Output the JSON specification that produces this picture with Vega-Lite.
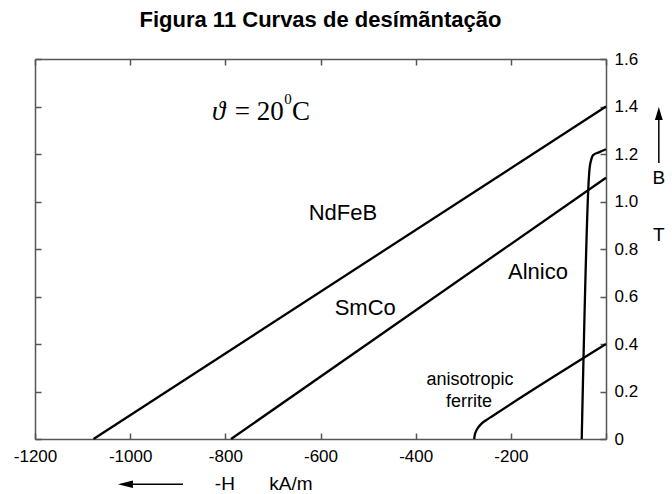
{
  "$schema": "https://vega.github.io/schema/vega-lite/v6.json",
  "width": 571,
  "height": 380,
  "autosize": {"type": "none"},
  "padding": {"left": 35, "top": 59, "right": 66, "bottom": 55},
  "background": "white",
  "title": {
    "text": "Figura 11 Curvas de desímãntação",
    "font": "Liberation Sans",
    "fontSize": 22,
    "fontWeight": "bold",
    "color": "#000000",
    "anchor": "middle",
    "offset": 18
  },
  "config": {
    "view": {"stroke": null},
    "font": "Liberation Sans",
    "axis": {
      "grid": false,
      "title": null,
      "domainColor": "#555555",
      "domainWidth": 1.5,
      "tickColor": "#555555",
      "tickWidth": 1.5,
      "tickSize": -6,
      "labelFont": "Liberation Sans",
      "labelFontSize": 17,
      "labelColor": "#000000",
      "labelFlush": false,
      "labelOverlap": false
    }
  },
  "datasets": {
    "curves": [
      {"material": "NdFeB", "H": -1077, "B": 0},
      {"material": "NdFeB", "H": 0, "B": 1.40},
      {"material": "SmCo", "H": -788, "B": 0},
      {"material": "SmCo", "H": 0, "B": 1.10},
      {"material": "Alnico", "H": -51, "B": 0},
      {"material": "Alnico", "H": -36, "B": 1.10},
      {"material": "Alnico", "H": -34.5, "B": 1.14},
      {"material": "Alnico", "H": -32, "B": 1.168},
      {"material": "Alnico", "H": -27, "B": 1.195},
      {"material": "Alnico", "H": -15, "B": 1.207},
      {"material": "Alnico", "H": 0, "B": 1.22},
      {"material": "anisotropic ferrite", "H": -277, "B": 0},
      {"material": "anisotropic ferrite", "H": -276, "B": 0.015},
      {"material": "anisotropic ferrite", "H": -273, "B": 0.033},
      {"material": "anisotropic ferrite", "H": -268, "B": 0.050},
      {"material": "anisotropic ferrite", "H": -261, "B": 0.066},
      {"material": "anisotropic ferrite", "H": -252, "B": 0.079},
      {"material": "anisotropic ferrite", "H": -240, "B": 0.095},
      {"material": "anisotropic ferrite", "H": 0, "B": 0.40}
    ],
    "anchor": [{}]
  },
  "layer": [
    {
      "data": {"name": "curves"},
      "mark": {"type": "line", "color": "#000000", "strokeWidth": 2.3, "interpolate": "monotone"},
      "encoding": {
        "x": {
          "field": "H",
          "type": "quantitative",
          "scale": {"domain": [-1200, 0], "nice": false, "zero": false},
          "axis": {
            "orient": "bottom",
            "values": [-1200, -1000, -800, -600, -400, -200, 0],
            "labelExpr": "datum.value == 0 ? '' : '' + datum.value",
            "labelPadding": 15
          }
        },
        "y": {
          "field": "B",
          "type": "quantitative",
          "scale": {"domain": [0, 1.6], "nice": false, "zero": false},
          "axis": {
            "orient": "right",
            "values": [0, 0.2, 0.4, 0.6, 0.8, 1.0, 1.2, 1.4, 1.6],
            "labelExpr": "datum.value == 0 ? '0' : format(datum.value, '.1f')",
            "labelPadding": 14
          }
        },
        "detail": {"field": "material"}
      }
    },
    {
      "data": {"name": "anchor"},
      "mark": {"type": "text", "text": "NdFeB", "fontSize": 22, "align": "center", "baseline": "middle", "color": "#000000"},
      "encoding": {
        "x": {"datum": -553, "type": "quantitative", "scale": {"domain": [-1200, 0], "nice": false, "zero": false},
          "axis": {"orient": "top", "values": [-1200, -1000, -800, -600, -400, -200, 0], "labels": false}},
        "y": {"datum": 0.952, "type": "quantitative", "scale": {"domain": [0, 1.6], "nice": false, "zero": false},
          "axis": {"orient": "left", "values": [0, 0.2, 0.4, 0.6, 0.8, 1.0, 1.2, 1.4, 1.6], "labels": false}}
      }
    },
    {
      "data": {"name": "anchor"},
      "mark": {"type": "text", "text": "SmCo", "fontSize": 22, "align": "center", "baseline": "middle", "color": "#000000"},
      "encoding": {
        "x": {"datum": -506, "type": "quantitative", "scale": {"domain": [-1200, 0], "nice": false, "zero": false}, "axis": null},
        "y": {"datum": 0.55, "type": "quantitative", "scale": {"domain": [0, 1.6], "nice": false, "zero": false}, "axis": null}
      }
    },
    {
      "data": {"name": "anchor"},
      "mark": {"type": "text", "text": "Alnico", "fontSize": 22, "align": "center", "baseline": "middle", "color": "#000000"},
      "encoding": {
        "x": {"datum": -143, "type": "quantitative", "scale": {"domain": [-1200, 0], "nice": false, "zero": false}, "axis": null},
        "y": {"datum": 0.703, "type": "quantitative", "scale": {"domain": [0, 1.6], "nice": false, "zero": false}, "axis": null}
      }
    },
    {
      "data": {"name": "anchor"},
      "mark": {"type": "text", "text": "anisotropic", "fontSize": 18, "align": "center", "baseline": "middle", "color": "#000000"},
      "encoding": {
        "x": {"datum": -286, "type": "quantitative", "scale": {"domain": [-1200, 0], "nice": false, "zero": false}, "axis": null},
        "y": {"datum": 0.248, "type": "quantitative", "scale": {"domain": [0, 1.6], "nice": false, "zero": false}, "axis": null}
      }
    },
    {
      "data": {"name": "anchor"},
      "mark": {"type": "text", "text": "ferrite", "fontSize": 18, "align": "center", "baseline": "middle", "color": "#000000"},
      "encoding": {
        "x": {"datum": -288, "type": "quantitative", "scale": {"domain": [-1200, 0], "nice": false, "zero": false}, "axis": null},
        "y": {"datum": 0.156, "type": "quantitative", "scale": {"domain": [0, 1.6], "nice": false, "zero": false}, "axis": null}
      }
    },
    {
      "data": {"name": "anchor"},
      "mark": {"type": "text", "text": "ϑ", "font": "Liberation Serif", "fontStyle": "italic", "fontSize": 27, "align": "left", "baseline": "alphabetic", "color": "#000000"},
      "encoding": {
        "x": {"datum": -828, "type": "quantitative", "scale": {"domain": [-1200, 0], "nice": false, "zero": false}, "axis": null},
        "y": {"datum": 1.343, "type": "quantitative", "scale": {"domain": [0, 1.6], "nice": false, "zero": false}, "axis": null}
      }
    },
    {
      "data": {"name": "anchor"},
      "mark": {"type": "text", "text": "= 20", "font": "Liberation Serif", "fontSize": 27, "align": "left", "baseline": "alphabetic", "color": "#000000"},
      "encoding": {
        "x": {"datum": -780, "type": "quantitative", "scale": {"domain": [-1200, 0], "nice": false, "zero": false}, "axis": null},
        "y": {"datum": 1.343, "type": "quantitative", "scale": {"domain": [0, 1.6], "nice": false, "zero": false}, "axis": null}
      }
    },
    {
      "data": {"name": "anchor"},
      "mark": {"type": "text", "text": "0", "font": "Liberation Serif", "fontSize": 15, "align": "left", "baseline": "alphabetic", "color": "#000000"},
      "encoding": {
        "x": {"datum": -676, "type": "quantitative", "scale": {"domain": [-1200, 0], "nice": false, "zero": false}, "axis": null},
        "y": {"datum": 1.41, "type": "quantitative", "scale": {"domain": [0, 1.6], "nice": false, "zero": false}, "axis": null}
      }
    },
    {
      "data": {"name": "anchor"},
      "mark": {"type": "text", "text": "C", "font": "Liberation Serif", "fontSize": 27, "align": "left", "baseline": "alphabetic", "color": "#000000"},
      "encoding": {
        "x": {"datum": -660, "type": "quantitative", "scale": {"domain": [-1200, 0], "nice": false, "zero": false}, "axis": null},
        "y": {"datum": 1.343, "type": "quantitative", "scale": {"domain": [0, 1.6], "nice": false, "zero": false}, "axis": null}
      }
    },
    {
      "data": {"name": "anchor"},
      "mark": {"type": "rule", "color": "#000000", "strokeWidth": 1.5},
      "encoding": {
        "x": {"datum": 111, "type": "quantitative", "scale": {"domain": [-1200, 0], "nice": false, "zero": false}, "axis": null},
        "y": {"datum": 1.162, "type": "quantitative", "scale": {"domain": [0, 1.6], "nice": false, "zero": false}, "axis": null},
        "y2": {"datum": 1.36}
      }
    },
    {
      "data": {"name": "anchor"},
      "mark": {"type": "point", "shape": "M0,-1L0.6,1L-0.6,1Z", "filled": true, "color": "#000000", "opacity": 1, "size": 169},
      "encoding": {
        "x": {"datum": 111, "type": "quantitative", "scale": {"domain": [-1200, 0], "nice": false, "zero": false}, "axis": null},
        "y": {"datum": 1.371, "type": "quantitative", "scale": {"domain": [0, 1.6], "nice": false, "zero": false}, "axis": null}
      }
    },
    {
      "data": {"name": "anchor"},
      "mark": {"type": "text", "text": "B", "fontSize": 19, "align": "center", "baseline": "middle", "color": "#000000"},
      "encoding": {
        "x": {"datum": 111, "type": "quantitative", "scale": {"domain": [-1200, 0], "nice": false, "zero": false}, "axis": null},
        "y": {"datum": 1.099, "type": "quantitative", "scale": {"domain": [0, 1.6], "nice": false, "zero": false}, "axis": null}
      }
    },
    {
      "data": {"name": "anchor"},
      "mark": {"type": "text", "text": "T", "fontSize": 19, "align": "center", "baseline": "middle", "color": "#000000"},
      "encoding": {
        "x": {"datum": 111, "type": "quantitative", "scale": {"domain": [-1200, 0], "nice": false, "zero": false}, "axis": null},
        "y": {"datum": 0.859, "type": "quantitative", "scale": {"domain": [0, 1.6], "nice": false, "zero": false}, "axis": null}
      }
    },
    {
      "data": {"name": "anchor"},
      "mark": {"type": "rule", "color": "#000000", "strokeWidth": 1.5},
      "encoding": {
        "x": {"datum": -994, "type": "quantitative", "scale": {"domain": [-1200, 0], "nice": false, "zero": false}, "axis": null},
        "x2": {"datum": -889},
        "y": {"datum": -0.19, "type": "quantitative", "scale": {"domain": [0, 1.6], "nice": false, "zero": false}, "axis": null}
      }
    },
    {
      "data": {"name": "anchor"},
      "mark": {"type": "point", "shape": "M-1,0L1,-0.5L1,0.5Z", "filled": true, "color": "#000000", "opacity": 1, "size": 225},
      "encoding": {
        "x": {"datum": -1010, "type": "quantitative", "scale": {"domain": [-1200, 0], "nice": false, "zero": false}, "axis": null},
        "y": {"datum": -0.19, "type": "quantitative", "scale": {"domain": [0, 1.6], "nice": false, "zero": false}, "axis": null}
      }
    },
    {
      "data": {"name": "anchor"},
      "mark": {"type": "text", "text": "-H", "fontSize": 19, "align": "center", "baseline": "middle", "color": "#000000"},
      "encoding": {
        "x": {"datum": -801, "type": "quantitative", "scale": {"domain": [-1200, 0], "nice": false, "zero": false}, "axis": null},
        "y": {"datum": -0.19, "type": "quantitative", "scale": {"domain": [0, 1.6], "nice": false, "zero": false}, "axis": null}
      }
    },
    {
      "data": {"name": "anchor"},
      "mark": {"type": "text", "text": "kA/m", "fontSize": 19, "align": "center", "baseline": "middle", "color": "#000000"},
      "encoding": {
        "x": {"datum": -662, "type": "quantitative", "scale": {"domain": [-1200, 0], "nice": false, "zero": false}, "axis": null},
        "y": {"datum": -0.19, "type": "quantitative", "scale": {"domain": [0, 1.6], "nice": false, "zero": false}, "axis": null}
      }
    }
  ],
  "resolve": {"axis": {"x": "independent", "y": "independent"}}
}
